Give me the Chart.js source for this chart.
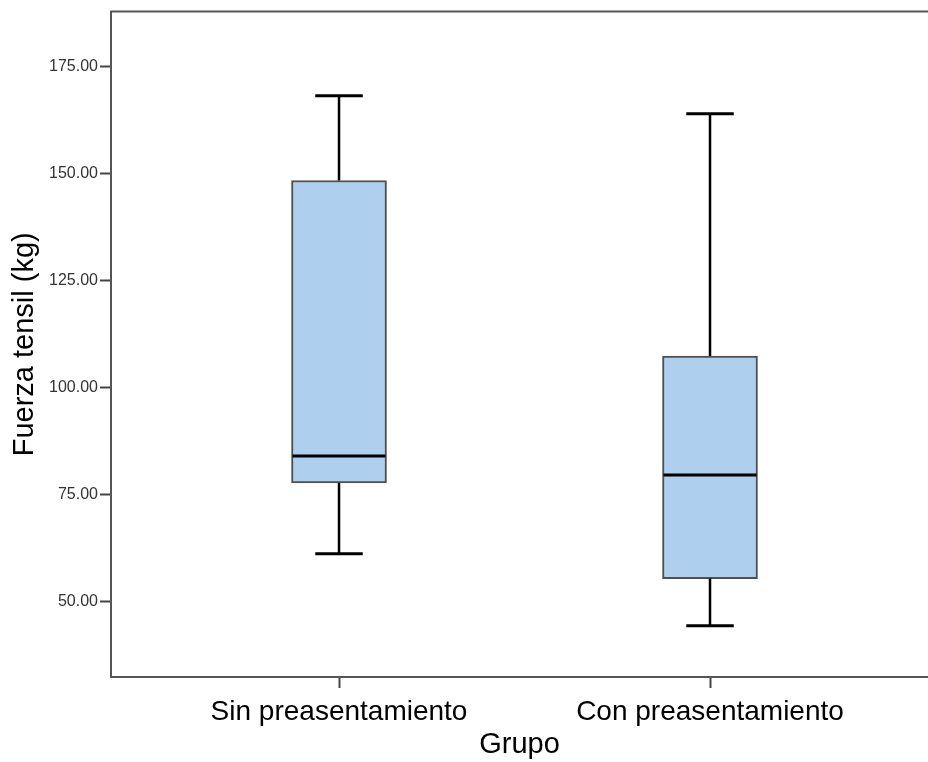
<!DOCTYPE html>
<html>
<head>
<meta charset="utf-8">
<script src="https://cdn.jsdelivr.net/npm/chart.js@4"></script>
<style>
  html, body { margin: 0; padding: 0; background: #ffffff; }
  canvas { display: block; }
</style>
</head>
<body>
<canvas id="c" width="928" height="762"></canvas>
<script>
// ---- data ----
const categories = ["Sin preasentamiento", "Con preasentamiento"];
const whiskerLow  = [61.2, 44.4];
const q1          = [77.75, 55.4];
const median      = [84.05, 79.6];
const q3          = [148.4, 107.4];
const whiskerHigh = [168.2, 164.0];
const yTickValues = [50, 75, 100, 125, 150, 175];
const xPositions  = [1, 2];

const FONT = "'Liberation Sans', Arial, sans-serif";

const boxData = categories.map((c, i) => ({ x: xPositions[i], y: [q1[i], q3[i]] }));

const boxPlugin = {
  id: 'boxExtras',
  afterDatasetsDraw(chart) {
    const { ctx, scales: { x, y } } = chart;
    const meta = chart.getDatasetMeta(0);
    ctx.save();
    categories.forEach((c, i) => {
      const el = meta.data[i];
      const cx = x.getPixelForValue(xPositions[i]);
      const half = el.width / 2;
      const capHalf = el.width / 4;
      ctx.strokeStyle = '#000000';
      ctx.lineCap = 'butt';
      // whiskers
      ctx.lineWidth = 2.5;
      ctx.beginPath();
      ctx.moveTo(cx, y.getPixelForValue(q3[i]));
      ctx.lineTo(cx, y.getPixelForValue(whiskerHigh[i]));
      ctx.moveTo(cx, y.getPixelForValue(q1[i]));
      ctx.lineTo(cx, y.getPixelForValue(whiskerLow[i]));
      ctx.stroke();
      // caps
      ctx.lineWidth = 3;
      ctx.beginPath();
      ctx.moveTo(cx - capHalf, y.getPixelForValue(whiskerHigh[i]));
      ctx.lineTo(cx + capHalf, y.getPixelForValue(whiskerHigh[i]));
      ctx.moveTo(cx - capHalf, y.getPixelForValue(whiskerLow[i]));
      ctx.lineTo(cx + capHalf, y.getPixelForValue(whiskerLow[i]));
      ctx.stroke();
      // median
      ctx.lineWidth = 3;
      ctx.beginPath();
      ctx.moveTo(cx - half + 1, y.getPixelForValue(median[i]));
      ctx.lineTo(cx + half - 1, y.getPixelForValue(median[i]));
      ctx.stroke();
    });
    // top frame line
    const a = chart.chartArea;
    ctx.strokeStyle = '#555555';
    ctx.lineWidth = 2;
    ctx.beginPath();
    ctx.moveTo(a.left - 1, a.top);
    ctx.lineTo(chart.width, a.top);
    ctx.stroke();
    ctx.restore();
  }
};

new Chart(document.getElementById('c'), {
  type: 'bar',
  data: {
    datasets: [{
      data: boxData,
      backgroundColor: 'rgb(174,207,238)',
      borderColor: '#505050',
      borderWidth: 2,
      borderSkipped: false,
      barThickness: 95
    }]
  },
  options: {
    responsive: false,
    animation: false,
    devicePixelRatio: 1,
    layout: { padding: { top: 11, right: 0, bottom: 0, left: 0 } },
    plugins: { legend: { display: false }, tooltip: { enabled: false }, title: { display: false } },
    scales: {
      x: {
        type: 'linear',
        min: 0.3854,
        max: 2.5876,
        offset: false,
        afterFit(s) { s.height = 85; },
        afterBuildTicks(s) { s.ticks = xPositions.map(v => ({ value: v })); },
        ticks: {
          callback: (v) => categories[xPositions.indexOf(v)],
          font: { family: FONT, size: 28 },
          color: '#000000',
          padding: 7,
          maxRotation: 0,
          autoSkip: false
        },
        grid: { display: true, offset: false, drawOnChartArea: false, drawTicks: true, tickLength: 11, tickColor: '#444444', tickWidth: 2 },
        border: { display: true, color: '#555555', width: 2 },
        title: { display: true, text: 'Grupo', font: { family: FONT, size: 29 }, color: '#000000', padding: { top: 0, bottom: 0 } }
      },
      y: {
        type: 'linear',
        min: 32.4,
        max: 187.85,
        afterFit(s) { s.width = 111; },
        afterBuildTicks(s) { s.ticks = yTickValues.map(v => ({ value: v })); },
        ticks: {
          callback: (v) => Number(v).toFixed(2),
          font: { family: FONT, size: 16 },
          color: '#333333',
          padding: 2
        },
        grid: { display: true, drawOnChartArea: false, drawTicks: true, tickLength: 11, tickColor: '#444444', tickWidth: 2 },
        border: { display: true, color: '#555555', width: 2 },
        title: { display: true, text: 'Fuerza tensil (kg)', font: { family: FONT, size: 29 }, color: '#000000', padding: { top: 8, bottom: 0 } }
      }
    }
  },
  plugins: [boxPlugin]
});
</script>
</body>
</html>
